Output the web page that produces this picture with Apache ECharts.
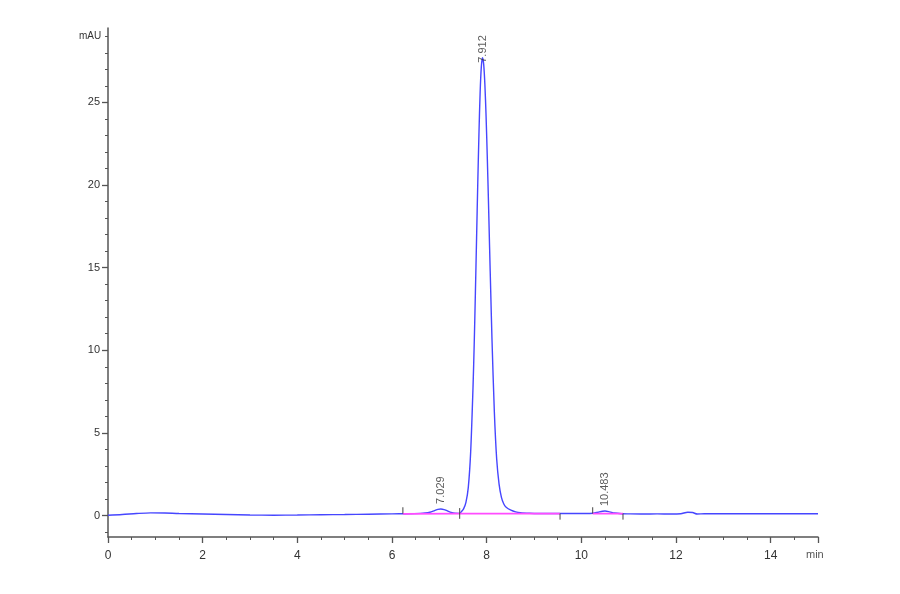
<!DOCTYPE html>
<html>
<head>
<meta charset="utf-8">
<script src="https://cdn.jsdelivr.net/npm/echarts@6/dist/echarts.min.js"></script>
<style>html,body{margin:0;padding:0;background:#fff}#c{width:900px;height:594px}</style>
</head>
<body>
<div id="c"></div>
<script>
// Chromatogram trace: [time (min), signal (mAU)]
var trace = [
  [0.0,0.02],[0.3,0.06],[0.6,0.12],[0.9,0.16],[1.2,0.15],[1.5,0.12],[2.0,0.09],[2.5,0.06],
  [3.0,0.03],[3.5,0.02],[4.0,0.03],[4.5,0.05],[5.0,0.06],[5.5,0.08],[6.0,0.10],[6.3,0.11],
  [6.6,0.13],[6.7,0.15],[6.8,0.20],[6.9,0.30],[6.97,0.37],[7.03,0.39],[7.1,0.36],[7.17,0.28],
  [7.25,0.19],[7.33,0.14],[7.43,0.13],
  [7.462,0.22],[7.512,0.40],[7.562,0.80],[7.612,1.70],[7.662,3.85],[7.712,7.8],[7.737,10.4],
  [7.762,13.5],[7.787,16.8],[7.812,20.1],[7.837,23.1],[7.862,25.6],[7.887,27.15],[7.912,27.7],
  [7.937,27.3],[7.962,26.1],[7.987,24.2],[8.012,21.8],[8.037,19.1],[8.062,16.2],[8.087,13.4],
  [8.112,10.7],[8.162,6.3],[8.212,3.4],[8.262,1.9],[8.312,1.1],[8.362,0.7],[8.412,0.5],
  [8.512,0.32],[8.612,0.22],[8.712,0.17],[8.912,0.14],[9.212,0.12],
  [9.5,0.12],[9.8,0.12],[10.1,0.12],[10.25,0.14],[10.35,0.20],[10.45,0.26],[10.5,0.27],
  [10.6,0.22],[10.7,0.15],[10.85,0.11],[11.0,0.10],[11.3,0.09],[11.6,0.10],[11.9,0.09],
  [12.1,0.11],[12.25,0.20],[12.35,0.18],[12.45,0.09],[12.6,0.11],[13.0,0.11],[13.5,0.11],
  [14.0,0.11],[14.5,0.11],[15.0,0.11]
];
// Integration baselines
var baseline1 = [[6.23,0.10],[7.43,0.12]];
var baseline2 = [[7.43,0.12],[9.55,0.12]];
var baseline3 = [[10.24,0.12],[10.88,0.11]];
// Integration boundary marks
var marks = [
  [[6.23,0.12],[6.23,0.5]],
  [[7.43,-0.2],[7.43,0.45]],
  [[9.55,-0.25],[9.55,0.12]],
  [[10.24,0.12],[10.24,0.5]],
  [[10.88,-0.25],[10.88,0.12]]
];
// Peaks: [retention time, height, label]
var peaks = [[7.04,0.40,'7.029'],[7.912,27.7,'7.912'],[10.5,0.27,'10.483']];
var peakLabelDistance = [5,-5,5];
var yMajorTicks = [0,5,10,15,20,25];
var yMinorTicks = [-1,1,2,3,4,6,7,8,9,11,12,13,14,16,17,18,19,21,22,23,24,26,27,28,29];

var chart = echarts.init(document.getElementById('c'));
var axisColor = '#555';
var font = 'Liberation Sans, Arial, sans-serif';

var series = [
  {type:'line', data:trace, showSymbol:false, smooth:0.3,
   lineStyle:{color:'#4646ff', width:1.4}, z:3},
  {type:'line', data:baseline1, showSymbol:false, lineStyle:{color:'#ff4cff', width:1.8}, z:10},
  {type:'line', data:baseline2, showSymbol:false, lineStyle:{color:'#ff4cff', width:1.8}, z:10},
  {type:'line', data:baseline3, showSymbol:false, lineStyle:{color:'#ff4cff', width:1.8}, z:10}
];
marks.forEach(function(m){
  series.push({type:'line', data:m, showSymbol:false, lineStyle:{color:'#444', width:1}, z:11});
});
series.push({
  type:'scatter', symbolSize:0, z:12,
  data: peaks.map(function(p,i){
    return {value:[p[0],p[1]], label:{distance:peakLabelDistance[i]}};
  }),
  label:{show:true, position:'top', rotate:90, align:'left', verticalAlign:'middle',
    formatter:function(d){return peaks[d.dataIndex][2];},
    color:'#333', fontFamily:font, fontSize:11}
});

chart.setOption({
  animation:false,
  grid:{left:108, right:82, top:28, bottom:57},
  xAxis:{type:'value', min:0, max:15, interval:2,
    axisLine:{show:true, onZero:false, lineStyle:{color:axisColor, width:1.5}},
    axisTick:{show:true, length:6, lineStyle:{color:axisColor, width:1.3}},
    minorTick:{show:true, splitNumber:4, length:3, lineStyle:{color:axisColor}},
    axisLabel:{margin:13, showMaxLabel:false, color:'#333', fontFamily:font, fontSize:12},
    splitLine:{show:false}},
  yAxis:[
    {type:'value', min:-1.3, max:29.5,
     axisLine:{show:true, onZero:false, lineStyle:{color:axisColor, width:1.5}},
     axisTick:{show:true, customValues:yMajorTicks, length:6, lineStyle:{color:axisColor, width:1.3}},
     axisLabel:{customValues:yMajorTicks, margin:8, color:'#333', fontFamily:font, fontSize:11},
     splitLine:{show:false}},
    {type:'value', min:-1.3, max:29.5, position:'left',
     axisLine:{show:false},
     axisTick:{show:true, customValues:yMinorTicks, length:3, lineStyle:{color:axisColor}},
     axisLabel:{show:false},
     splitLine:{show:false}}
  ],
  graphic:[
    {type:'text', left:79, top:31, style:{text:'mAU', fill:'#333', font:'10px Liberation Sans, Arial, sans-serif'}},
    {type:'text', left:806, top:549, style:{text:'min', fill:'#555', font:'11px Liberation Sans, Arial, sans-serif'}}
  ],
  series:series
});
</script>
</body>
</html>
